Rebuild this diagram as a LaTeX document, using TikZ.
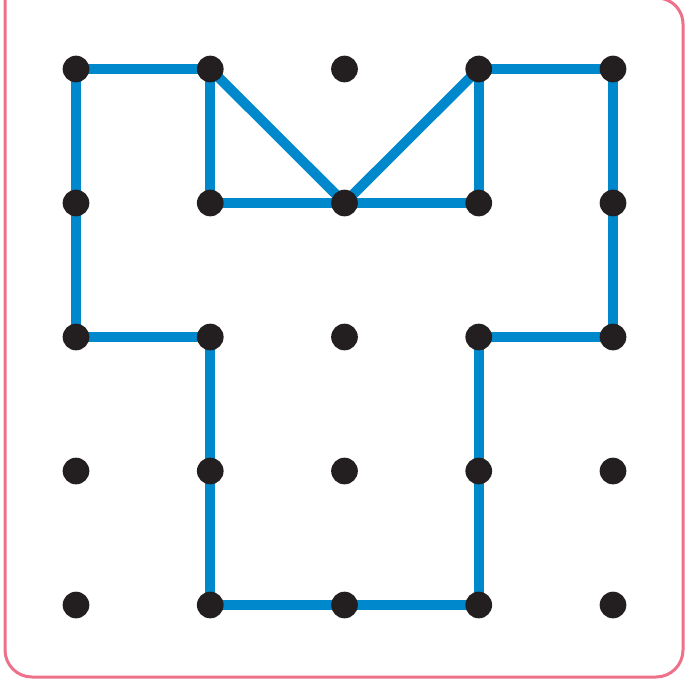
\documentclass[tikz,border=0pt]{standalone}
\definecolor{gbBlue}{HTML}{0088CC}
\definecolor{gbPeg}{HTML}{231F20}
\definecolor{gbFrame}{HTML}{EE7089}
\usepackage{tikz}
\usetikzlibrary{backgrounds}

\begin{document}
\begin{tikzpicture}[x=0.75pt, y=-0.75pt,
  peg/.style={circle, fill=gbPeg, inner sep=0pt, minimum size=20pt},
  band/.style={gbBlue, line width=7.5pt, line join=round}]
\useasboundingbox (0,0) rectangle (685,679);
% board frame
\draw[gbFrame, line width=2.25pt] (5,-5) -- (5,650)
  arc[start angle=180, end angle=90, radius=27] -- (656,677)
  arc[start angle=90, end angle=0, radius=27] -- (683,24)
  arc[start angle=0, end angle=-100, radius=26];
% pegs
\foreach \i in {0,...,4}
  \foreach \j in {0,...,4}
    \node[peg] (d-\i-\j) at ({76+134.25*\i},{69+134*\j}) {};
% rubber band
\begin{scope}[on background layer]
\draw[band] (d-0-0.center) -- (d-1-0.center) -- (d-1-1.center) -- (d-3-1.center)
  -- (d-3-0.center) -- (d-4-0.center) -- (d-4-2.center) -- (d-3-2.center)
  -- (d-3-4.center) -- (d-1-4.center) -- (d-1-2.center) -- (d-0-2.center) -- cycle;
\draw[band] (d-1-0.center) -- (d-2-1.center) -- (d-3-0.center);
\end{scope}
\end{tikzpicture}
\end{document}
